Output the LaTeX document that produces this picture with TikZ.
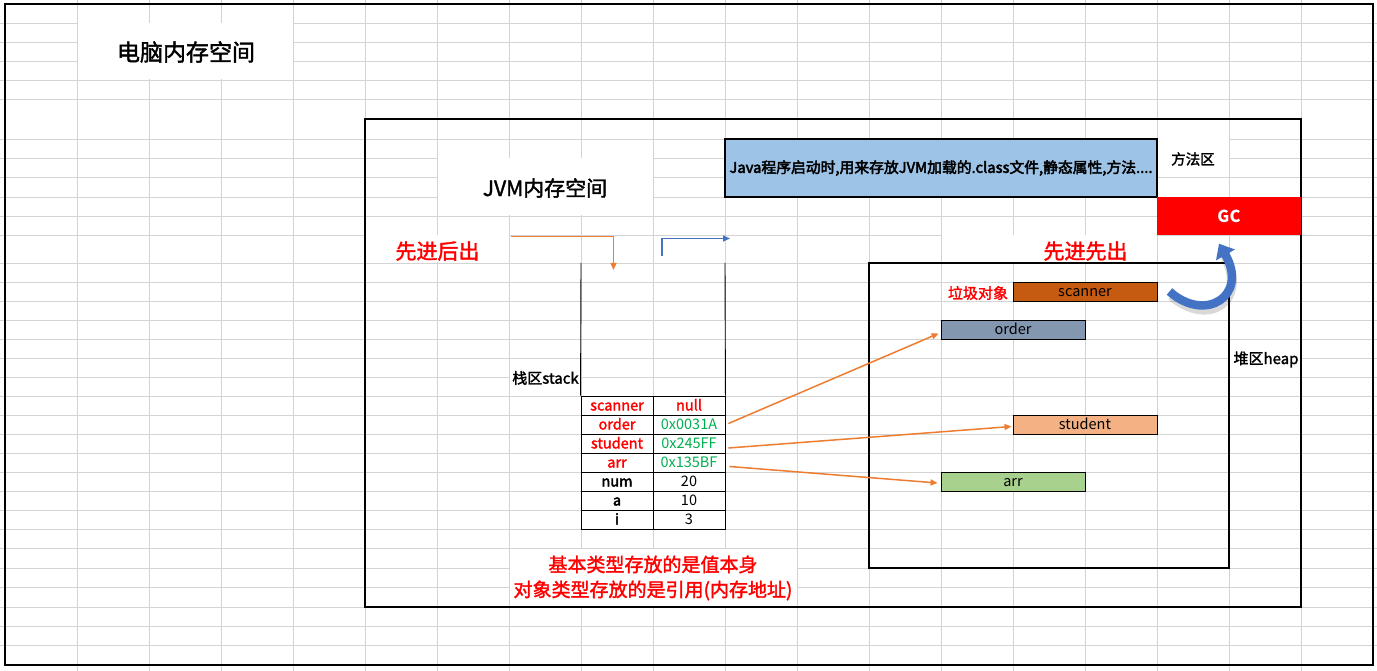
\documentclass[tikz,border=0pt]{standalone}
\usepackage{fontspec}
\setmainfont{Noto Sans CJK SC}
\newfontfamily\medfont{Noto Sans CJK SC}[FakeBold=3]
\newfontfamily\semifont{Noto Sans CJK SC}[FakeBold=1.8]
\usetikzlibrary{arrows.meta}
\definecolor{gridc}{HTML}{D4D4D4}
\definecolor{boxblue}{HTML}{9DC3E6}
\definecolor{xred}{HTML}{FF0000}
\definecolor{xgreen}{HTML}{00B050}
\definecolor{xorange}{HTML}{ED7D31}
\definecolor{xblue}{HTML}{4472C4}
\definecolor{scanc}{HTML}{C55A11}
\definecolor{orderc}{HTML}{8497B0}
\definecolor{studc}{HTML}{F4B183}
\definecolor{arrc}{HTML}{A9D18E}
\begin{document}
\begin{tikzpicture}[x=1pt,y=-1pt,
  gridline/.style={draw=gridc,line width=0.8pt},
  frame/.style={draw=black,line width=2pt,inner sep=0pt},
  heapobj/.style={draw=black,line width=0.9pt,inner sep=0pt,minimum width=144pt,minimum height=19pt,text height=12pt,text depth=2pt,font=\fontsize{14.5}{16}\selectfont},
  cell/.style={draw=black,line width=0.9pt,inner sep=0pt,minimum width=72pt,minimum height=19pt,text height=12pt,text depth=2pt,font=\fontsize{14.5}{16}\selectfont},
  namecell/.style={cell,text=xred,font=\fontsize{14.5}{16}\selectfont\semifont},
  valcell/.style={cell,text=xgreen},
  thinline/.style={draw=black,line width=0.9pt},
  refarrow/.style={draw=xorange,line width=1.5pt,-{Triangle[length=7pt,width=6pt]}},
  redtext/.style={text=xred,inner sep=0pt}
]
\useasboundingbox (0,0) rectangle (1377,671);
\fill[white] (0,0) rectangle (1377,671);
% spreadsheet grid
\foreach \x in {77,149,221,293,365,437,509,581,653,725,797,869,941,1013,1085,1157,1229,1301}
  \draw[gridline] (\x,0) -- (\x,671);
\foreach \y in {23,42,61,80,99,139,158,177,197,216,235,263,282,301,320,339,358,377,396,415,434,453,472,491,510,529,548,568,587,607,626,645}
  \draw[gridline] (0,\y) -- (1377,\y);
% merged / overflow cells
\fill[white] (77.5,23.5) rectangle (292.5,79.5);
\fill[white] (437.5,158.5) rectangle (652.5,215.5);
\fill[white] (365.5,235.5) rectangle (508.5,262.5);
\fill[white] (941.5,235.5) rectangle (1156.5,262.5);
\fill[white] (509.5,358.5) rectangle (580.5,395.5);
\fill[white] (1157.5,139.5) rectangle (1228.5,176.5);
\fill[white] (1229.5,339.5) rectangle (1300.5,376.5);
\fill[white] (509.5,548.5) rectangle (796.5,606.5);

% frames
\node[frame,minimum width=1368pt,minimum height=661pt] (pc) at (689,334.5) {};
\node[frame,minimum width=936pt,minimum height=488pt] (jvm) at (833,363) {};
\node[frame,minimum width=360pt,minimum height=305pt] (heap) at (1049,415.5) {};

% titles
\node[font=\fontsize{23}{26}\selectfont\semifont] (pctitle) at (186,52) {电脑内存空间};
\node[font=\fontsize{21}{24}\selectfont\semifont] (jvmtitle) at (545,188) {JVM内存空间};

% method area
\node[frame,fill=boxblue,minimum width=432pt,minimum height=58pt,font=\fontsize{14.8}{16}\selectfont\medfont] (method) at (941,168) {Java程序启动时,用来存放JVM加载的.class文件,静态属性,方法....};
\node[font=\fontsize{14.5}{16}\selectfont\semifont] (methodlbl) at (1193,159) {方法区};
\node[fill=xred,inner sep=0pt,minimum width=144pt,minimum height=38pt,text=white,font=\fontsize{16.5}{18}\selectfont\bfseries] (gc) at (1229,216.5) {GC};

% stack labels
\node[redtext,font=\fontsize{21}{24}\selectfont\semifont] (lifo) at (437.5,251) {先进后出};
\node[redtext,font=\fontsize{21}{24}\selectfont\semifont] (fifo) at (1085.5,251) {先进先出};
\node[inner sep=0pt,font=\fontsize{15}{17}\selectfont\semifont] (stacklbl) at (545.5,378) {栈区stack};

% stack table
\node[namecell] (sn) at (617,405.5) {scanner};
\node[cell,text=xred,font=\fontsize{14.5}{16}\selectfont\semifont] (sv) at (689,405.5) {null};
\node[namecell] (on) at (617,424.5) {order};
\node[valcell] (ov) at (689,424.5) {0x0031A};
\node[namecell] (stn) at (617,443.5) {student};
\node[valcell] (stv) at (689,443.5) {0x245FF};
\node[namecell] (an) at (617,462.5) {arr};
\node[valcell] (av) at (689,462.5) {0x135BF};
\node[cell,font=\fontsize{14.5}{16}\selectfont\medfont] (nn) at (617,481.5) {num};
\node[cell] (nv) at (689,481.5) {20};
\node[cell,font=\fontsize{14.5}{16}\selectfont\medfont] (aan) at (617,500.5) {a};
\node[cell] (aav) at (689,500.5) {10};
\node[cell,font=\fontsize{14.5}{16}\selectfont\medfont] (in) at (617,519.5) {i};
\node[cell] (iv) at (689,519.5) {3};
\coordinate (stl) at (581,263);
\coordinate (str) at (725,263);
\draw[thinline] (stl) -- (sn.north west);
\draw[thinline] (str) -- (sv.north east);

% push / pop arrows
\coordinate (pushA) at (511,236.5);
\coordinate (pushB) at (613.5,270);
\draw[draw=xorange,line width=1.5pt,-{Triangle[length=7pt,width=6pt]}] (pushA) -| (pushB);
\coordinate (popA) at (662,256.5);
\coordinate (popB) at (730,238.5);
\draw[draw=xblue,line width=1.5pt,-{Triangle[length=7pt,width=6pt]}] (popA) |- (popB);

% heap objects
\node[redtext,font=\fontsize{15}{17}\selectfont\semifont] (garbage) at (978,293) {垃圾对象};
\node[heapobj,fill=scanc] (sb) at (1085,291.5) {scanner};
\node[heapobj,fill=orderc] (ob) at (1013,329.5) {order};
\node[heapobj,fill=studc] (stb) at (1085,424.5) {student};
\node[heapobj,fill=arrc] (ab) at (1013,481.5) {arr};
\node[font=\fontsize{15}{17}\selectfont\semifont] (heaplbl) at (1266,359.5) {堆区heap};

% references
\draw[refarrow] ([xshift=3pt,yshift=1pt]ov.east) -- ([xshift=-2pt,yshift=-4pt]ob.west);
\draw[refarrow] ([xshift=3pt,yshift=-4.5pt]stv.east) -- ([xshift=-1pt,yshift=-2pt]stb.west);
\draw[refarrow] ([xshift=4pt,yshift=-4pt]av.east) -- ([xshift=-3pt,yshift=-1.5pt]ab.west);

% garbage collection arrow
\draw[black,opacity=0.15,line width=10pt] ([xshift=14pt,yshift=-4pt]sb.east) .. controls +(36,32) and +(30,52) .. ([xshift=-7pt,yshift=-14pt]gc.south);
\draw[xblue,line width=8.5pt,-{Triangle[length=13pt,width=21pt]}] ([xshift=12pt]sb.east) .. controls +(36,32) and +(30,52) .. ([xshift=-10pt,yshift=-8pt]gc.south);

% note
\node[redtext,align=center,font=\fontsize{19}{25}\selectfont\semifont] (note) at (653,578) {基本类型存放的是值本身\\对象类型存放的是引用(内存地址)};
\end{tikzpicture}
\end{document}
